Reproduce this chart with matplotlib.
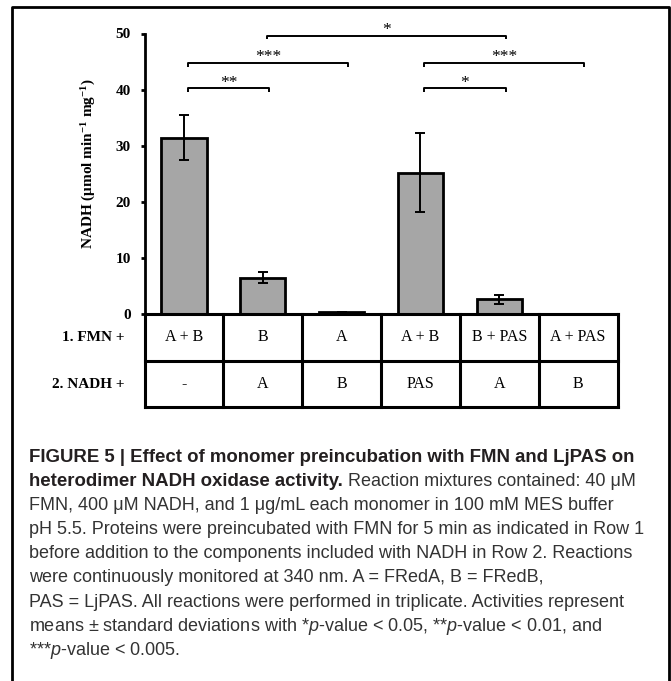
import numpy as np
import matplotlib
matplotlib.use('Agg')
import matplotlib.pyplot as plt

# data
means = [31.4, 6.5, 0.35, 25.2, 2.6, 0.05]
errs = [4.0, 1.0, 0.05, 7.0, 0.8, 0.0]
row1 = ['A + B', 'B', 'A', 'A + B', 'B + PAS', 'A + PAS']
row2 = ['-', 'A', 'B', 'PAS', 'A', 'B']
row_names = ['1. FMN +', '2. NADH +']
# significance brackets: (left bar, right bar, height, stars)
brackets = [(0, 1, 40.2, '**'), (0, 2, 44.7, '***'), (1, 4, 49.6, '*'),
            (3, 5, 44.7, '***'), (3, 4, 40.2, '*')]
yticks = [0, 10, 20, 30, 40, 50]

caption = [
    [('FIGURE 5 | Effect of monomer preincubation with FMN and LjPAS on', 'bold')],
    [('heterodimer NADH oxidase activity.', 'bold'), ('Reaction mixtures contained: 40 μM', 'normal')],
    [('FMN, 400 μM NADH, and 1 μg/mL each monomer in 100 mM MES buffer', 'normal')],
    [('pH 5.5. Proteins were preincubated with FMN for 5 min as indicated in Row 1', 'normal')],
    [('before addition to the components included with NADH in Row 2. Reactions', 'normal')],
    [('were continuously monitored at 340 nm. A = FRedA, B = FRedB,', 'normal')],
    [('PAS = LjPAS. All reactions were performed in triplicate. Activities represent', 'normal')],
    [('means ± standard deviations with *$p$-value < 0.05, **$p$-value < 0.01, and', 'normal')],
    [('***$p$-value < 0.005.', 'normal')],
]

plt.rcParams['mathtext.fontset'] = 'custom'
plt.rcParams['mathtext.rm'] = 'Liberation Serif'
plt.rcParams['mathtext.bf'] = 'Liberation Serif:bold'
plt.rcParams['mathtext.it'] = 'Liberation Sans:italic'

W, H = 671, 681
fig = plt.figure(figsize=(W / 100, H / 100), dpi=100)

def fx(px):
    return px / W

def fy(py):
    return 1 - py / H

serif = 'Liberation Serif'
sans = 'Liberation Sans'

# outer frame (open at the bottom)
fig.add_artist(plt.Line2D([fx(12), fx(12), fx(669), fx(669)], [0, fy(7), fy(7), 0],
                          transform=fig.transFigure, color='black', lw=2))

# bar chart
ax = fig.add_axes([fx(144.5), fy(314), fx(617.5) - fx(144.5), fy(33.5) - fy(314)])
x = np.arange(len(means))
ax.bar(x, means, width=0.575, color='#a6a6a6', edgecolor='black', linewidth=2, zorder=2)
ax.errorbar(x, means, yerr=errs, fmt='none', ecolor='black', elinewidth=1.4,
            capsize=3.5, capthick=1.4, zorder=3)
ax.set_xlim(-0.5, 5.5)
ax.set_ylim(0, 50)
for s in ['top', 'right', 'bottom']:
    ax.spines[s].set_visible(False)
ax.spines['left'].set_linewidth(2)
ax.set_xticks([])
ax.set_yticks(yticks)
ax.tick_params(axis='y', direction='out', length=3, width=2, pad=7)
for lab in ax.get_yticklabels():
    lab.set_fontfamily(serif)
    lab.set_fontweight('bold')
    lab.set_fontsize(11)
ax.set_ylabel('NADH (μmol min$^{\\mathbf{-1}}$ mg$^{\\mathbf{-1}}$)', family=serif,
              fontweight='bold', fontsize=11)
ax.yaxis.set_label_coords((97 - 144.5) / 473, (314 - 164) / 280.5)

for i0, i1, yb, stars in brackets:
    x0, x1 = i0 + 0.05, i1 + 0.08
    ax.plot([x0, x0, x1, x1], [yb - 0.6, yb, yb, yb - 0.6], color='black', lw=1.4,
            clip_on=False, solid_capstyle='butt')
    ax.text((x0 + x1) / 2, yb - 0.4, stars, ha='center', va='bottom', family=serif,
            fontsize=12.5, clip_on=False)

# table under the bars
tab = fig.add_axes([fx(144.5), fy(407), fx(617.5) - fx(144.5), fy(314) - fy(407)])
tab.set_xlim(-0.5, 5.5)
tab.set_ylim(0, 2)
tab.axis('off')
for yy in [0, 1, 2]:
    tab.plot([-0.5, 5.5], [yy, yy], color='black', lw=2.2, clip_on=False, solid_capstyle='projecting')
for xx in np.arange(-0.5, 6, 1):
    tab.plot([xx, xx], [0, 2], color='black', lw=2.2, clip_on=False, solid_capstyle='projecting')
for i in range(len(row1)):
    tab.text(i, 1.5, row1[i], ha='center', va='center', family=serif, fontsize=11.5)
    tab.text(i, 0.5, row2[i], ha='center', va='center', family=serif, fontsize=11.5)
fig.text(fx(125), fy(337.5), row_names[0], ha='right', va='center', family=serif,
         fontweight='bold', fontsize=11)
fig.text(fx(125), fy(384), row_names[1], ha='right', va='center', family=serif,
         fontweight='bold', fontsize=11)

# caption
renderer = fig.canvas.get_renderer()
sizes = {'bold': 13.4, 'normal': 13.0}
t1 = fig.text(0, 0, 'x x', family=sans, fontsize=sizes['normal'])
t2 = fig.text(0, 0, 'xx', family=sans, fontsize=sizes['normal'])
space = t1.get_window_extent(renderer).width - t2.get_window_extent(renderer).width
t1.remove()
t2.remove()
for k, runs in enumerate(caption):
    xpos = 29
    ypos = 462 + 24.1 * k
    for txt, wt in runs:
        t = fig.text(fx(xpos), fy(ypos), txt, ha='left', va='baseline', family=sans,
                     fontweight=wt, fontsize=sizes[wt],
                     color='#231f20' if wt == 'bold' else '#333333')
        xpos += t.get_window_extent(renderer).width + space

fig.savefig('out.png', dpi=100)
